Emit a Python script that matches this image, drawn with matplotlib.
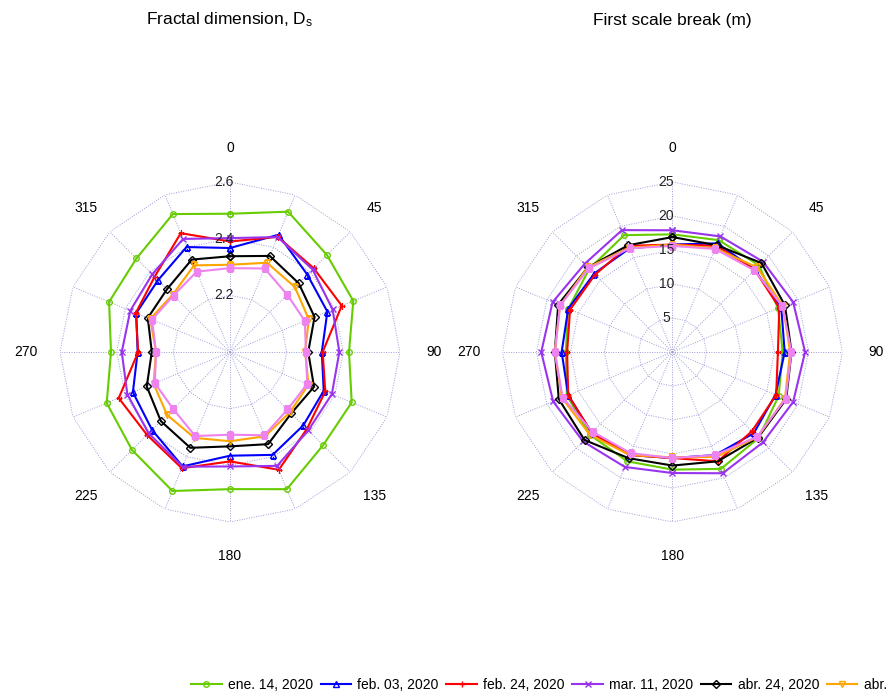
import numpy as np
import matplotlib
matplotlib.use("Agg")
import matplotlib.pyplot as plt
from matplotlib.transforms import offset_copy

plt.rcParams['font.family'] = ['Liberation Sans', 'DejaVu Sans']
plt.rcParams['mathtext.default'] = 'regular'

# 16 directions, clockwise from north
directions = np.arange(0, 360, 22.5)
dir_labels = [0, 45, 90, 135, 180, 225, 270, 315]

dates = ["ene. 14, 2020", "feb. 03, 2020", "feb. 24, 2020", "mar. 11, 2020",
         "abr. 24, 2020", "abr. 30, 2020", "may. 14, 2020"]
colors = ["#66cc00", "#0000ff", "#ff0000", "#9933ee", "#000000", "#ffa500", "#ee82ee"]
markers = ["o", "^", "+", "x", "D", "v", "s"]

# fractal dimension Ds per direction
ds_ene14 = [2.488, 2.536, 2.484, 2.471, 2.420, 2.465, 2.465, 2.524,
            2.484, 2.531, 2.489, 2.471, 2.420, 2.462, 2.467, 2.527]
ds_feb03 = [2.367, 2.448, 2.386, 2.372, 2.324, 2.358, 2.366, 2.393,
            2.366, 2.437, 2.389, 2.371, 2.326, 2.358, 2.359, 2.401]
ds_feb24 = [2.390, 2.440, 2.418, 2.427, 2.327, 2.364, 2.384, 2.450,
            2.386, 2.444, 2.414, 2.425, 2.324, 2.360, 2.376, 2.454]
ds_mar11 = [2.402, 2.439, 2.412, 2.392, 2.386, 2.389, 2.391, 2.435,
            2.404, 2.438, 2.406, 2.392, 2.382, 2.381, 2.388, 2.432]
ds_abr24 = [2.338, 2.367, 2.343, 2.323, 2.276, 2.321, 2.306, 2.352,
            2.333, 2.366, 2.345, 2.318, 2.276, 2.314, 2.314, 2.353]
ds_abr30 = [2.308, 2.341, 2.324, 2.301, 2.265, 2.300, 2.300, 2.322,
            2.315, 2.328, 2.314, 2.292, 2.261, 2.305, 2.286, 2.331]
ds_may14 = [2.296, 2.319, 2.286, 2.286, 2.268, 2.295, 2.287, 2.318,
            2.292, 2.321, 2.284, 2.287, 2.261, 2.298, 2.282, 2.307]

# first scale break (m) per direction
sb_ene14 = [17.3, 17.8, 18.0, 16.8, 16.2, 16.9, 17.9, 18.6,
            17.3, 17.4, 17.2, 16.8, 15.7, 16.6, 17.3, 18.6]
sb_feb03 = [15.8, 17.3, 17.1, 17.3, 16.5, 16.4, 16.9, 16.4,
            15.6, 16.4, 16.8, 16.6, 16.3, 16.6, 16.3, 16.5]
sb_feb24 = [15.8, 16.9, 17.1, 17.0, 15.5, 16.5, 16.5, 17.4,
            15.6, 16.4, 16.8, 16.6, 15.5, 16.3, 16.1, 16.9]
sb_mar11 = [17.9, 18.4, 18.8, 19.2, 19.5, 19.2, 18.8, 19.3,
            17.8, 18.3, 18.6, 19.0, 19.3, 19.1, 18.3, 19.4]
sb_abr24 = [16.9, 17.0, 18.5, 17.9, 17.5, 18.1, 17.8, 17.4,
            16.7, 16.9, 18.3, 18.1, 17.3, 18.2, 17.6, 17.0]
sb_abr30 = [15.8, 16.5, 17.6, 17.6, 17.3, 17.9, 17.7, 16.7,
            15.5, 16.4, 17.2, 17.6, 17.3, 17.9, 17.6, 16.6]
sb_may14 = [15.6, 16.4, 17.0, 17.5, 17.5, 18.0, 17.6, 16.4,
            15.6, 16.1, 16.6, 17.5, 17.3, 17.9, 17.4, 16.5]

ds_series = [ds_ene14, ds_feb03, ds_feb24, ds_mar11, ds_abr24, ds_abr30, ds_may14]
sb_series = [sb_ene14, sb_feb03, sb_feb24, sb_mar11, sb_abr24, sb_abr30, sb_may14]

ds_rings = [2.2, 2.4, 2.6]
sb_rings = [5, 10, 15, 20, 25]

grid_color = "#9c9cd6"


def radar(ax, series, rmin, rmax, rings, ring_fmt):
    ax.set_theta_zero_location('N')
    ax.set_theta_direction(-1)
    ax.set_ylim(rmin, rmax)
    ax.grid(False)
    ax.spines['polar'].set_visible(False)
    ax.set_xticks([])
    ax.set_yticks([])
    ax.patch.set_alpha(0)

    th = np.deg2rad(directions)
    th_closed = np.append(th, th[0])

    # polygon grid
    for r in rings:
        ax.plot(th_closed, [r] * len(th_closed), color=grid_color, lw=0.7,
                ls=(0, (1, 1.5)), zorder=1)
    for t in th:
        ax.plot([t, t], [rmin, rmax], color=grid_color, lw=0.7,
                ls=(0, (1, 1.5)), zorder=1)

    lines = []
    for vals, c, m in zip(series, colors, markers):
        v = np.append(vals, vals[0])
        ln, = ax.plot(th_closed, v, color=c, lw=1.5, marker=m, ms=4,
                      mfc='none' if m in ('o', '^', 'D', 'v') else c,
                      mew=1.0, zorder=3)
        lines.append(ln)

    # radial labels along the north spoke
    tr = offset_copy(ax.transData, fig=ax.figure, x=-6, y=0, units='dots')
    for r in rings:
        ax.text(0, r, ring_fmt(r), transform=tr, ha='center', va='center',
                fontsize=10, color='#222222', zorder=4)

    # direction labels
    for d in dir_labels:
        ax.text(np.deg2rad(d), rmin + 1.2 * (rmax - rmin), str(d),
                ha='center', va='center', fontsize=10, clip_on=False)
    return lines


fig = plt.figure(figsize=(8.87, 6.93), dpi=100)
W, H = 887, 693
size = 340

ax1 = fig.add_axes([(230 - 170) / W, (H - 352 - 170) / H, size / W, size / H],
                   projection='polar')
lines = radar(ax1, ds_series, 2.0, 2.6, ds_rings, lambda r: f"{r:.1f}")

ax2 = fig.add_axes([(672.5 - 170) / W, (H - 352 - 170) / H, size / W, size / H],
                   projection='polar')
radar(ax2, sb_series, 0, 25, sb_rings, lambda r: f"{r:d}")

fig.text(230 / W, 1 - 20 / H, "Fractal dimension, D$_s$", ha='center',
         va='center', fontsize=12.5)
fig.text(672 / W, 1 - 20 / H, "First scale break (m)", ha='center',
         va='center', fontsize=12.5)

fig.legend(lines, dates, loc='center left', bbox_to_anchor=(191 / W, 8 / H),
           ncol=len(dates), frameon=False, fontsize=10, handlelength=2.2,
           handletextpad=0.45, columnspacing=0.55, borderpad=0, borderaxespad=0)

fig.savefig("out.png", dpi=100)
